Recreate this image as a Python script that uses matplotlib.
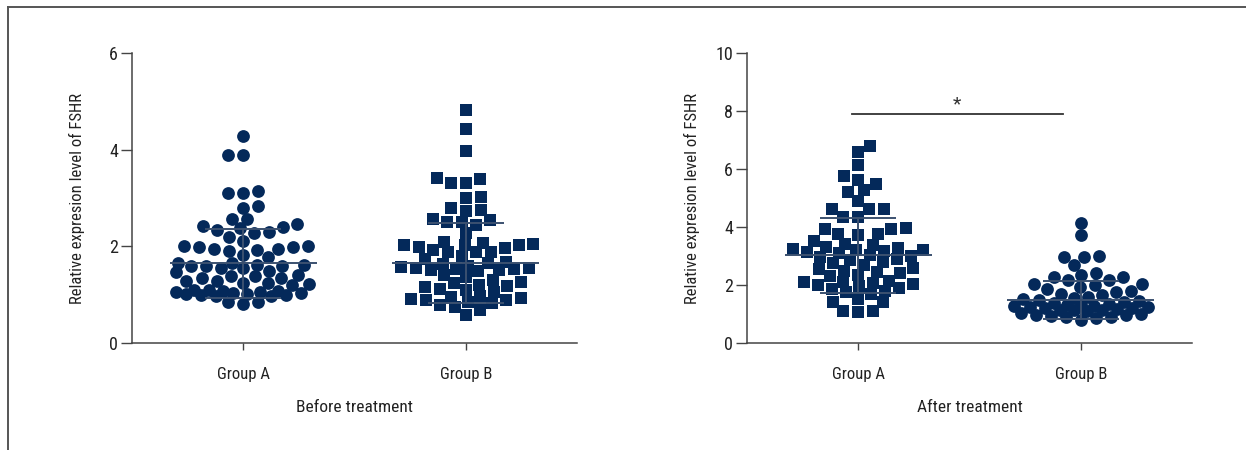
import numpy as np
import matplotlib
matplotlib.use('Agg')
import matplotlib.pyplot as plt
from matplotlib.lines import Line2D

# ---------------- data ----------------
categories = ['Group A', 'Group B']
panel_labels = ['Before treatment', 'After treatment']
y_label = 'Relative expresion level of FSHR'

before_a = [4.28, 3.90, 3.90, 3.15, 3.11, 3.11, 2.84, 2.79, 2.57, 2.57, 2.46, 2.43,
            2.39, 2.37, 2.34, 2.29, 2.27, 2.20, 2.12, 2.00, 2.00, 1.99, 1.99, 1.94,
            1.94, 1.92, 1.90, 1.82, 1.77, 1.66, 1.66, 1.62, 1.62, 1.60, 1.60, 1.60,
            1.55, 1.55, 1.48, 1.46, 1.41, 1.38, 1.38, 1.34, 1.34, 1.29, 1.29, 1.25,
            1.25, 1.22, 1.20, 1.10, 1.10, 1.08, 1.08, 1.06, 1.06, 1.04, 1.03, 1.02,
            1.01, 1.00, 0.99, 0.98, 0.97, 0.85, 0.85, 0.80]
before_b = [4.82, 4.42, 3.97, 3.41, 3.39, 3.32, 3.32, 3.03, 2.99, 2.79, 2.75, 2.74,
            2.56, 2.54, 2.50, 2.50, 2.44, 2.27, 2.10, 2.06, 2.04, 2.03, 2.03, 2.03,
            1.99, 1.96, 1.92, 1.89, 1.88, 1.88, 1.81, 1.73, 1.68, 1.66, 1.63, 1.60,
            1.58, 1.56, 1.55, 1.54, 1.53, 1.52, 1.51, 1.50, 1.41, 1.37, 1.30, 1.27,
            1.24, 1.21, 1.18, 1.15, 1.12, 1.10, 1.06, 0.98, 0.96, 0.94, 0.92, 0.90,
            0.88, 0.85, 0.82, 0.78, 0.74, 0.68, 0.58]
after_a = [6.80, 6.57, 6.15, 5.77, 5.63, 5.49, 5.26, 5.20, 4.91, 4.63, 4.63, 4.63,
           4.36, 4.36, 3.97, 3.94, 3.92, 3.77, 3.75, 3.71, 3.52, 3.43, 3.39, 3.30,
           3.28, 3.25, 3.22, 3.20, 3.18, 3.15, 3.10, 3.05, 3.00, 2.95, 2.90, 2.85,
           2.80, 2.75, 2.70, 2.60, 2.55, 2.50, 2.45, 2.40, 2.35, 2.30, 2.15, 2.12,
           2.10, 2.08, 2.05, 2.00, 1.95, 1.90, 1.85, 1.80, 1.75, 1.70, 1.52, 1.41,
           1.41, 1.12, 1.12, 1.07]
after_b = [4.13, 3.71, 3.00, 2.97, 2.97, 2.68, 2.40, 2.34, 2.28, 2.28, 2.16, 2.16,
           2.05, 2.05, 2.00, 1.93, 1.85, 1.80, 1.75, 1.70, 1.65, 1.60, 1.55, 1.52,
           1.50, 1.45, 1.40, 1.38, 1.35, 1.30, 1.30, 1.28, 1.27, 1.25, 1.25, 1.20,
           1.20, 1.18, 1.15, 1.15, 1.13, 1.10, 1.05, 1.00, 0.98, 0.95, 0.92, 0.90,
           0.88, 0.85, 0.79]

before_mean = [1.65, 1.65]
before_sd = [0.71, 0.83]
after_mean = [3.02, 1.48]
after_sd = [1.28, 0.65]

before_yticks = [0, 2, 4, 6]
after_yticks = [0, 2, 4, 6, 8, 10]
sig_text = '*'
sig_level = 7.9
sig_span = [-0.03, 0.92]

# ---------------- style ----------------
FONT = ['Liberation Sans Narrow', 'Roboto Condensed', 'DejaVu Sans']
plt.rcParams['font.family'] = FONT
DOT = '#04295a'
BAR = '#3b5170'
AX = '#444444'
TXT = '#222222'

fig = plt.figure(figsize=(12.46, 4.5), dpi=100)
W, H = 1246, 450


def add_ax(left_px):
    return fig.add_axes([left_px / W, (H - 343) / H, 445 / W, 290 / H])


def swarm_offsets(values, ax, w_px=14.5, h_px=11.0, half_px=67):
    """Capped elliptical beeswarm, points taken in ascending order."""
    v = np.asarray(values, float)
    ypx = ax.transData.transform(np.column_stack([np.zeros_like(v), v]))[:, 1]
    px_per_x = ax.transData.transform((1, 0))[0] - ax.transData.transform((0, 0))[0]
    cand = np.arange(-half_px, half_px + 0.5, 1.0)
    order = np.argsort(v, kind='stable')
    px_list, py_list = [], []
    offs = np.zeros_like(v)
    side = 1.0
    for i in order:
        y = ypx[i]
        if px_list:
            px = np.array(px_list)
            py = np.array(py_list)
            dist = np.sqrt(((cand[:, None] - px[None, :]) / w_px) ** 2 +
                           ((y - py[None, :]) / h_px) ** 2).min(axis=1)
        else:
            dist = np.full(cand.shape, 9.0)
        free = dist >= 1.0
        if free.any():
            score = np.where(free, np.abs(cand) - 0.01 * side * cand, np.inf)
        else:
            score = -dist + 0.001 * np.abs(cand)
        c = cand[np.argmin(score)]
        if c != 0:
            side = -np.sign(c)
        offs[i] = c
        px_list.append(c)
        py_list.append(y)
    return offs / px_per_x


def panel(ax, groups, markers, means, sds, yticks, xlabel):
    ax.set_xlim(-0.5, 1.5)
    ax.set_ylim(0, yticks[-1])
    for i, (vals, mk) in enumerate(zip(groups, markers)):
        off = swarm_offsets(vals, ax)
        ax.scatter(i + off, vals, s=9.2 ** 2, marker=mk, color=DOT,
                   linewidths=0, zorder=2, clip_on=False)
        m, s = means[i], sds[i]
        ax.hlines(m, i - 0.33, i + 0.33, color=BAR, lw=1.4, zorder=3)
        ax.vlines(i, m - s, m + s, color=BAR, lw=1.4, zorder=3)
        ax.hlines([m - s, m + s], i - 0.17, i + 0.17, color=BAR, lw=1.4, zorder=3)
    for side in ['top', 'right']:
        ax.spines[side].set_visible(False)
    for side in ['left', 'bottom']:
        ax.spines[side].set_color(AX)
        ax.spines[side].set_linewidth(1.1)
    ax.set_yticks(yticks)
    ax.set_xticks(range(len(categories)))
    ax.set_xticklabels(categories)
    ax.tick_params(axis='y', direction='out', length=8, width=1, color=AX,
                   labelsize=13, pad=2, labelcolor=TXT)
    ax.tick_params(axis='x', direction='out', length=5, width=1, color=AX,
                   labelsize=12, pad=12, labelcolor=TXT)
    ax.text(-55 / 445, 0.5, y_label, transform=ax.transAxes, rotation=90,
            ha='center', va='center', fontsize=12, color=TXT)
    ax.text(0.5, -64 / 290, xlabel, transform=ax.transAxes, ha='center',
            va='center', fontsize=12.5, color=TXT)


ax1 = add_ax(132)
panel(ax1, [before_a, before_b], ['o', 's'], before_mean, before_sd,
      before_yticks, panel_labels[0])
ax2 = add_ax(747)
panel(ax2, [after_a, after_b], ['s', 'o'], after_mean, after_sd,
      after_yticks, panel_labels[1])

ax2.plot(sig_span, [sig_level, sig_level], color='#333333', lw=1.3)
ax2.text(np.mean(sig_span), sig_level + 0.15, sig_text, ha='center',
         va='baseline', fontsize=14, color='#333333')

# outer frame (left and top edges)
fig.add_artist(Line2D([8 / W, 8 / W], [0, 1 - 7 / H], color='#555555', lw=1.4))
fig.add_artist(Line2D([8 / W, 1], [1 - 7 / H, 1 - 7 / H], color='#555555', lw=1.4))

fig.savefig('out.png', dpi=100, facecolor='white')
